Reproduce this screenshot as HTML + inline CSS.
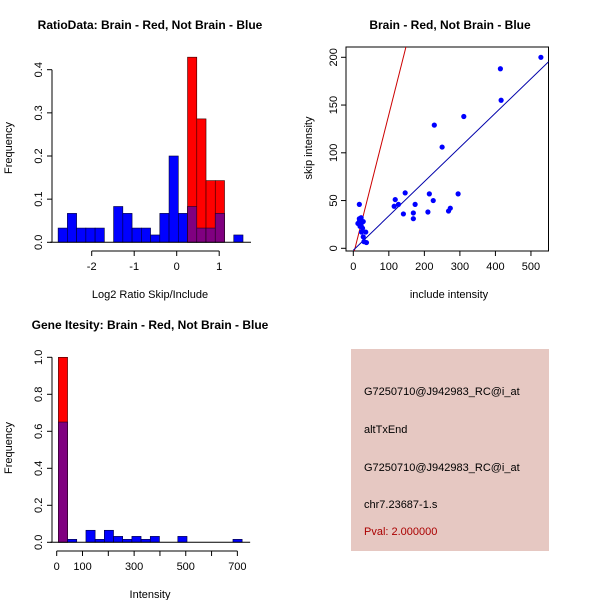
<!DOCTYPE html>
<html><head><meta charset="utf-8"><style>
body{margin:0;background:#fff}
svg{display:block;font-family:"Liberation Sans",sans-serif}
</style></head><body>
<svg id="c" width="600" height="600"></svg>
<script>
// Panel 1 data: log2 ratio histogram
const ratioBinStart = -2.79;
const ratioBinWidth = 0.2175;
const ratioBlue = [0.033,0.067,0.033,0.033,0.033,0,0.083,0.067,0.033,0.033,0.017,0.067,0.2,0.067,0.083,0.033,0.033,0.067,0,0.017];
const ratioRed  = [0,0,0,0,0,0,0,0,0,0,0,0,0,0,0.429,0.286,0.143,0.143,0,0];
const ratioXTicks = [-2,-1,0,1];
const ratioYTicks = [0,0.1,0.2,0.3,0.4];
const ratioYLabels = ["0.0","0.1","0.2","0.3","0.4"];
// Panel 2 data: scatter
const includeVals = [528,414,416,311,228,250,146,118,115,127,141,169,169,174,214,225,210,295,268,273,17,17,22,13,28,19,26,23,35,28,30,37,17,22];
const skipVals    = [200,188,155,138,129,106,58,51,44,46,36,37,31,46,57,50,38,57,39,42,46,31,32,26,28,23,21,17,17,12,7,6,28,24];
const redLine = [-7,1.47];
const blueLine = [-2,0.359];
const scatXTicks = [0,100,200,300,400,500];
const scatYTicks = [0,50,100,150,200];
// Panel 3 data: intensity histogram
const intBinStart = 6.5;
const intBinWidth = 35.6;
const intBlue = [0.65,0.016,0,0.065,0.016,0.065,0.032,0.016,0.032,0.016,0.032,0,0,0.032,0,0,0,0,0,0.016];
const intRed  = [1.0,0,0,0,0,0,0,0,0,0,0,0,0,0,0,0,0,0,0,0];
const intXTicks = [0,100,200,300,400,500,600,700];
const intXLabels = ["0","100","","300","","500","","700"];
const intYTicks = [0,0.2,0.4,0.6,0.8,1.0];
const intYLabels = ["0.0","0.2","0.4","0.6","0.8","1.0"];

const svg=document.getElementById('c');
const NS='http://www.w3.org/2000/svg';
function el(t,a,txt){const e=document.createElementNS(NS,t);for(const k in a)e.setAttribute(k,a[k]);if(txt!==undefined)e.textContent=txt;svg.appendChild(e);return e;}

function hist(p){
  const sx=v=>p.x0+(v-p.xv0)*p.kx, sy=v=>p.y0-v*p.ky;
  for(let i=0;i<p.blue.length;i++){
    const a=sx(p.bs+i*p.bw), b=sx(p.bs+(i+1)*p.bw);
    const bl=p.blue[i], rd=p.red[i];
    if(bl>0){const r=el('rect',{x:a,y:sy(bl),width:b-a,height:sy(0)-sy(bl),fill:'#0000ff',stroke:'#000033','stroke-width':0.6});
      }
    if(rd>0){const r=el('rect',{x:a,y:sy(rd),width:b-a,height:sy(0)-sy(rd),fill:'#ff0000',stroke:'#330000','stroke-width':0.6});
      }
    const m=Math.min(bl,rd);
    if(m>0){const r=el('rect',{x:a,y:sy(m),width:b-a,height:sy(0)-sy(m),fill:'#800080',stroke:'#220022','stroke-width':0.6});
      }
  }
  el('line',{x1:sx(p.bs)-8,x2:sx(p.bs+p.blue.length*p.bw)+8,y1:sy(0),y2:sy(0),stroke:'#000'});
  const ya=p.yt;
  el('line',{x1:p.yax,x2:p.yax,y1:sy(ya[0]),y2:sy(ya[ya.length-1]),stroke:'#000'});
  ya.forEach((v,i)=>{el('line',{x1:p.yax-5,x2:p.yax,y1:sy(v),y2:sy(v),stroke:'#000'});
    const t=el('text',{x:p.yax-10,y:sy(v),transform:`rotate(-90 ${p.yax-10} ${sy(v)})`,'text-anchor':'middle','font-size':11},p.yl[i]);
    });
  const xa=p.xt, axY=p.xay;
  el('line',{x1:sx(xa[0]),x2:sx(xa[xa.length-1]),y1:axY,y2:axY,stroke:'#000'});
  xa.forEach((v,i)=>{el('line',{x1:sx(v),x2:sx(v),y1:axY,y2:axY+5,stroke:'#000'});
    const t=el('text',{x:sx(v),y:axY+19,'text-anchor':'middle','font-size':11},p.xl[i]);
    });
}

hist({x0:176.7,xv0:0,kx:42.5,y0:242.3,ky:431.5,bs:ratioBinStart,bw:ratioBinWidth,blue:ratioBlue,red:ratioRed,
  yt:ratioYTicks,yl:ratioYLabels,yax:52,xt:ratioXTicks,xl:ratioXTicks.map(String),xay:251});
let t;
t=el('text',{x:150,y:29,'text-anchor':'middle','font-size':12,'font-weight':'bold'},'RatioData: Brain - Red, Not Brain - Blue');

t=el('text',{x:150,y:298,'text-anchor':'middle','font-size':11},'Log2 Ratio Skip/Include');

t=el('text',{x:12,y:148,transform:'rotate(-90 12 148)','text-anchor':'middle','font-size':11},'Frequency');


(function(){
  const sx=v=>353.3+v*0.3553, sy=v=>248.3-v*0.955;
  const L=346,R=548.5,T=47,B=251;
  el('rect',{x:L,y:T,width:R-L,height:B-T,fill:'none',stroke:'#000'});
  const d=el('clipPath',{id:'cp'});
  const cr=document.createElementNS(NS,'rect');cr.setAttribute('x',L);cr.setAttribute('y',T);cr.setAttribute('width',R-L);cr.setAttribute('height',B-T);d.appendChild(cr);
  const x0=0,x1=560;
  let ln=el('line',{x1:sx(x0),y1:sy(redLine[0]+redLine[1]*x0),x2:sx(x1),y2:sy(redLine[0]+redLine[1]*x1),stroke:'#cc0000','clip-path':'url(#cp)'});
  
  ln=el('line',{x1:sx(x0),y1:sy(blueLine[0]+blueLine[1]*x0),x2:sx(x1),y2:sy(blueLine[0]+blueLine[1]*x1),stroke:'#0000aa','clip-path':'url(#cp)'});
  
  for(let i=0;i<includeVals.length;i++){const c=el('circle',{cx:sx(includeVals[i]),cy:sy(skipVals[i]),r:2.6,fill:'#0000ff'});
    }
  scatXTicks.forEach(v=>{el('line',{x1:sx(v),x2:sx(v),y1:B,y2:B+5,stroke:'#000'});
    const t=el('text',{x:sx(v),y:B+19,'text-anchor':'middle','font-size':11},String(v));
    });
  scatYTicks.forEach(v=>{el('line',{x1:L-5,x2:L,y1:sy(v),y2:sy(v),stroke:'#000'});
    const t=el('text',{x:L-9,y:sy(v),transform:`rotate(-90 ${L-9} ${sy(v)})`,'text-anchor':'middle','font-size':11},String(v));
    });
})();
t=el('text',{x:450,y:29,'text-anchor':'middle','font-size':12,'font-weight':'bold'},'Brain - Red, Not Brain - Blue');

t=el('text',{x:449,y:298,'text-anchor':'middle','font-size':11},'include intensity');

t=el('text',{x:312,y:148,transform:'rotate(-90 312 148)','text-anchor':'middle','font-size':11},'skip intensity');


hist({x0:56.7,xv0:0,kx:0.2581,y0:542.3,ky:185,bs:intBinStart,bw:intBinWidth,blue:intBlue,red:intRed,
  yt:intYTicks,yl:intYLabels,yax:52,xt:intXTicks,xl:intXLabels,xay:551});
t=el('text',{x:150,y:329,'text-anchor':'middle','font-size':12,'font-weight':'bold'},'Gene Itesity: Brain - Red, Not Brain - Blue');

t=el('text',{x:150,y:598,'text-anchor':'middle','font-size':11},'Intensity');

t=el('text',{x:12,y:448,transform:'rotate(-90 12 448)','text-anchor':'middle','font-size':11},'Frequency');


const r=el('rect',{x:351,y:349,width:198,height:202,fill:'#e6c8c2'});

const lines=[['G7250710@J942983_RC@i_at',395,'#000','probe-id'],['altTxEnd',433,'#000','event-type'],['G7250710@J942983_RC@i_at',471,'#000','probe-id-2'],['chr7.23687-1.s',508,'#000','locus'],['Pval: 2.000000',535,'#aa0000','p-value']];
lines.forEach(l=>{const t=el('text',{x:364,y:l[1],'font-size':11,fill:l[2]},l[0]);
  });
</script>
</body></html>
